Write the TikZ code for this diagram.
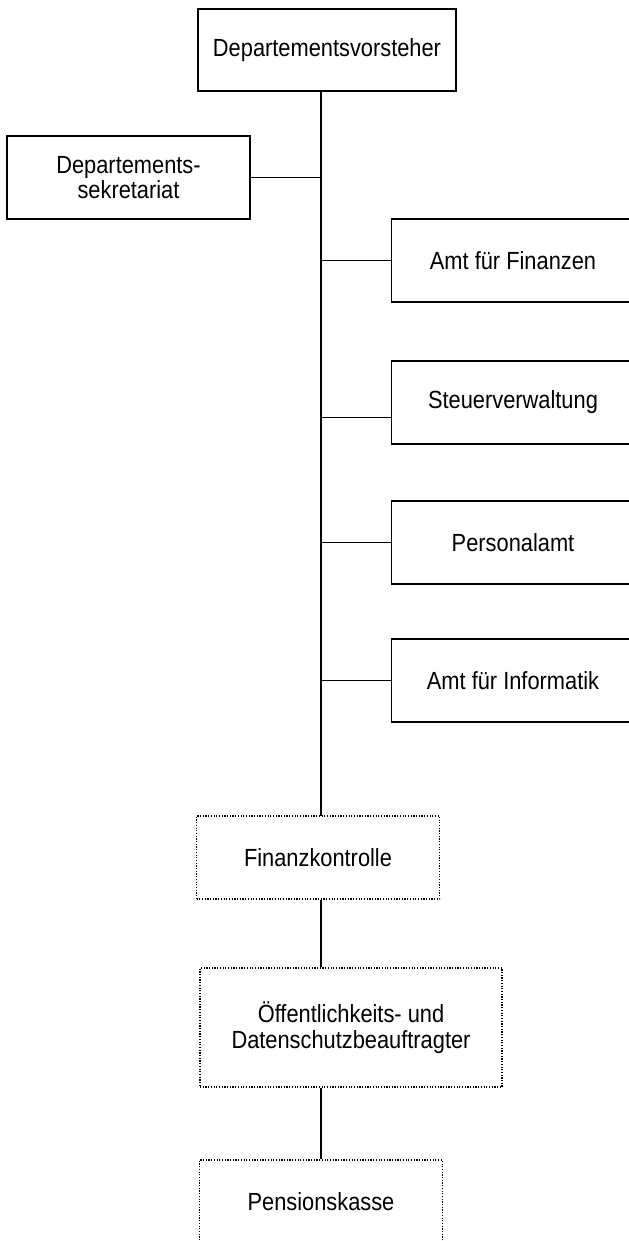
\documentclass[tikz,border=0pt]{standalone}
\usepackage{fontspec}
\setmainfont{Liberation Sans}[FakeStretch=0.88]

\begin{document}
\begin{tikzpicture}
[x=0.5pt,y=-0.5pt,
  lineDecorate/.style={-,line width=0.8pt},
  boxDecorate/.style={rectangle,draw,line width=0.8pt,inner sep=2pt,align=center,%
    minimum width=121.5pt,minimum height=41.5pt,font=\fontsize{12.4}{12.7}\selectfont},
  dotDecorate/.style={boxDecorate,line width=0.7pt,dash pattern=on 0.6pt off 0.75pt}]
\useasboundingbox (0,0) rectangle (628,1241);
%%
%% head and secretariat
\node (vorsteher) at (327,50) [boxDecorate,minimum width=129pt,minimum height=41pt] {Departementsvorsteher};
\node (sekretariat) at (128.5,177.5) [boxDecorate] {Departements-\\sekretariat};
%%
%% offices on the right
\foreach \nodename/\y/\nodetext in {
  finanzen/260.5/Amt für Finanzen,
  steuer/402.5/Steuerverwaltung,
  personal/542.5/Personalamt,
  informatik/680.5/Amt für Informatik}
{
  \node (\nodename) at (513,\y) [boxDecorate] {\nodetext};
}
%%
%% dotted units below
\node (kontrolle) at (318,857.5) [dotDecorate] {Finanzkontrolle};
\node (datenschutz) at (351,1027.5) [dotDecorate,minimum width=151pt,minimum height=59.5pt] {Öffentlichkeits- und\\Datenschutzbeauftragter};
\node (pension) at (321,1201.5) [dotDecorate] {Pensionskasse};
%%
%% trunk and branches
\coordinate (trunk) at (321,816);
\draw[lineDecorate] (vorsteher.south -| trunk) -- (trunk);
\path
\foreach \nodename in {sekretariat, finanzen, personal, informatik}
{
  (\nodename) edge[lineDecorate] (\nodename -| trunk)
};
\draw[lineDecorate] ([yshift=-7.5pt]steuer.west) -- ([yshift=-7.5pt]steuer.west -| trunk);
\draw[lineDecorate] (kontrolle.south -| trunk) -- (datenschutz.north -| trunk);
\draw[lineDecorate] (datenschutz.south -| pension.north) -- (pension.north);
\end{tikzpicture}
\end{document}
